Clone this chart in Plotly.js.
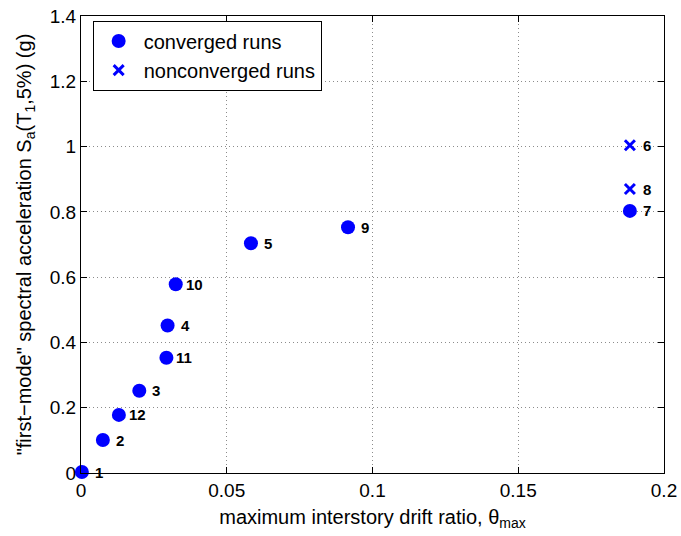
<!DOCTYPE html>
<html>
<head>
<meta charset="utf-8">
<script src="https://cdn.plot.ly/plotly-3.0.1.min.js"></script>
<style>html,body{margin:0;padding:0;background:#fff;}#chart{width:681px;height:536px;}</style>
</head>
<body>
<div id="chart"></div>
<script>
// Converged runs
const convLabels = ["1", "2", "12", "3", "11", "4", "10", "5", "9", "7"];
const convDrift  = [0.0003, 0.0075, 0.013, 0.020, 0.0293, 0.0297, 0.0325, 0.0583, 0.0916, 0.1883];
const convSa     = [0.003, 0.101, 0.178, 0.252, 0.353, 0.452, 0.578, 0.704, 0.753, 0.803];
// Nonconverged runs
const nonLabels = ["8", "6"];
const nonDrift  = [0.1883, 0.1883];
const nonSa     = [0.870, 1.004];

const xTicks = [0, 0.05, 0.1, 0.15, 0.2];
const xTickText = ["0", "0.05", "0.1", "0.15", "0.2"];
const yTicks = [0, 0.2, 0.4, 0.6, 0.8, 1.0, 1.2, 1.4];
const yTickText = ["0", "0.2", "0.4", "0.6", "0.8", "1", "1.2", "1.4"];

const FONT = 'Arial, "Liberation Sans", sans-serif';
const blue = '#0000ff';

const traces = [
  {
    x: convDrift, y: convSa, type: 'scatter', mode: 'markers',
    name: 'converged runs',
    marker: {symbol: 'circle', size: 14, color: blue},
    cliponaxis: false
  },
  {
    x: nonDrift, y: nonSa, type: 'scatter', mode: 'markers',
    name: 'nonconverged runs',
    marker: {symbol: 'x-thin', size: 10, color: blue, line: {color: blue, width: 3}},
    cliponaxis: false
  }
];

function mkAnn(xs, ys, labs) {
  return labs.map((t, i) => ({
    x: xs[i], y: ys[i], text: '<b>' + t + '</b>', showarrow: false,
    xanchor: 'left', yanchor: 'middle', xshift: t.length > 1 ? 8 : 11,
    font: {family: FONT, size: 15, color: '#000'}
  }));
}

const axisCommon = {
  showline: true, linecolor: '#000', linewidth: 1, mirror: 'ticks',
  ticks: 'inside', ticklen: 6, tickcolor: '#000',
  showgrid: true, gridcolor: '#8c8c8c', griddash: '1px,3px', gridwidth: 1,
  zeroline: false, tickfont: {family: FONT, size: 19, color: '#000'}
};

const layout = {
  width: 681, height: 536,
  margin: {l: 81, r: 17, t: 16, b: 63},
  paper_bgcolor: '#fff', plot_bgcolor: '#fff',
  font: {family: FONT, color: '#000'},
  showlegend: true,
  legend: {
    x: 0.02, y: 0.99, xanchor: 'left', yanchor: 'top',
    bgcolor: '#fff', bordercolor: '#000', borderwidth: 1,
    font: {family: FONT, size: 20, color: '#000'},
    tracegroupgap: 0, itemwidth: 40
  },
  xaxis: Object.assign({}, axisCommon, {
    range: [0, 0.2], tickvals: xTicks, ticktext: xTickText,
    title: {text: 'maximum interstory drift ratio, θ<sub>max</sub>', font: {family: FONT, size: 20, color: '#000'}, standoff: 10}
  }),
  yaxis: Object.assign({}, axisCommon, {
    range: [0, 1.4], tickvals: yTicks, ticktext: yTickText,
    title: {text: '"first−mode" spectral acceleration S<sub>a</sub>(T<sub>1</sub>,5%) (g)', font: {family: FONT, size: 20, color: '#000'}, standoff: 12}
  }),
  annotations: mkAnn(convDrift, convSa, convLabels).concat(mkAnn(nonDrift, nonSa, nonLabels))
};

Plotly.newPlot('chart', traces, layout, {displayModeBar: false, staticPlot: true});
</script>
</body>
</html>
